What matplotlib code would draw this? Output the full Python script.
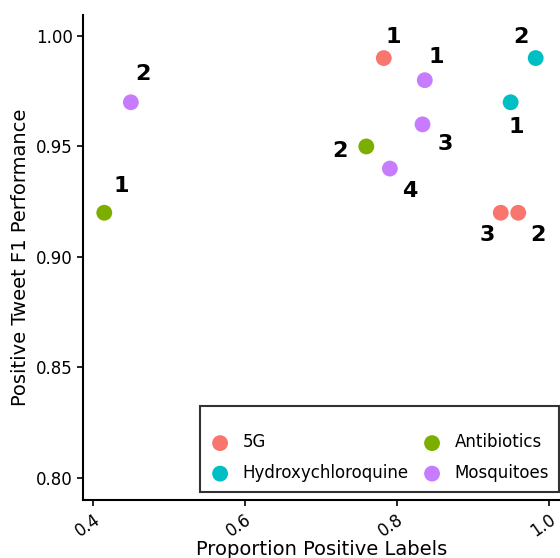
import matplotlib.pyplot as plt

# data
topics = ['5G', 'Hydroxychloroquine', 'Antibiotics', 'Mosquitoes']
colors = ['#F8766D', '#00BFC4', '#7CAE00', '#C77CFF']

prop_pos = {
    '5G': [0.783, 0.960, 0.937],
    'Hydroxychloroquine': [0.950, 0.983],
    'Antibiotics': [0.415, 0.760],
    'Mosquitoes': [0.837, 0.450, 0.834, 0.791],
}
f1_pos = {
    '5G': [0.99, 0.92, 0.92],
    'Hydroxychloroquine': [0.97, 0.99],
    'Antibiotics': [0.92, 0.95],
    'Mosquitoes': [0.98, 0.97, 0.96, 0.94],
}
run_ids = {
    '5G': ['1', '2', '3'],
    'Hydroxychloroquine': ['1', '2'],
    'Antibiotics': ['1', '2'],
    'Mosquitoes': ['1', '2', '3', '4'],
}
# label offsets in pixels (repel-style placement)
label_offsets = {
    '5G': [(9, 21), (20, -22), (-14, -22)],
    'Hydroxychloroquine': [(6, -25), (-15, 21)],
    'Antibiotics': [(17, 27), (-26, -5)],
    'Mosquitoes': [(11, 23), (12, 28), (23, -20), (20, -22)],
}

fig = plt.figure(figsize=(5.6, 5.58), dpi=100)
ax = fig.add_axes([83 / 560, 58 / 558, 477 / 560, 485 / 558])

for topic, col in zip(topics, colors):
    ax.scatter(prop_pos[topic], f1_pos[topic], s=130, color=col, label=topic,
               edgecolors='none', zorder=3)
    for x, y, lab, off in zip(prop_pos[topic], f1_pos[topic], run_ids[topic], label_offsets[topic]):
        ax.annotate(lab, (x, y), xytext=off, textcoords='offset pixels',
                    ha='center', va='center', fontsize=16, fontweight='bold')

ax.set_xlim(0.387, 1.015)
ax.set_ylim(0.790, 1.0095)
ax.set_xticks([0.4, 0.6, 0.8, 1.0])
ax.set_xticklabels(['0.4', '0.6', '0.8', '1.0'])
ax.set_yticks([0.80, 0.85, 0.90, 0.95, 1.00])
ax.set_yticklabels(['0.80', '0.85', '0.90', '0.95', '1.00'])
plt.setp(ax.get_xticklabels(), rotation=35, ha='right', rotation_mode='anchor')
ax.tick_params(labelsize=12, length=4, width=1.2, colors='black')

for side in ['top', 'right']:
    ax.spines[side].set_visible(False)
for side in ['left', 'bottom']:
    ax.spines[side].set_linewidth(1.5)

ax.set_xlabel('Proportion Positive Labels', fontsize=14, labelpad=0)
ax.set_ylabel('Positive Tweet F1 Performance', fontsize=14)

leg = ax.legend(ncol=2, loc='lower right', bbox_to_anchor=(0.998, 0.0165),
                borderaxespad=0, fontsize=12, title=' ', title_fontsize=4,
                fancybox=False, edgecolor='black', markerscale=1.0,
                handletextpad=0.75, columnspacing=0.8, handlelength=1.2,
                borderpad=0.6, labelspacing=0.75)
leg.get_frame().set_linewidth(1.5)

fig.savefig('out.png', dpi=100)
